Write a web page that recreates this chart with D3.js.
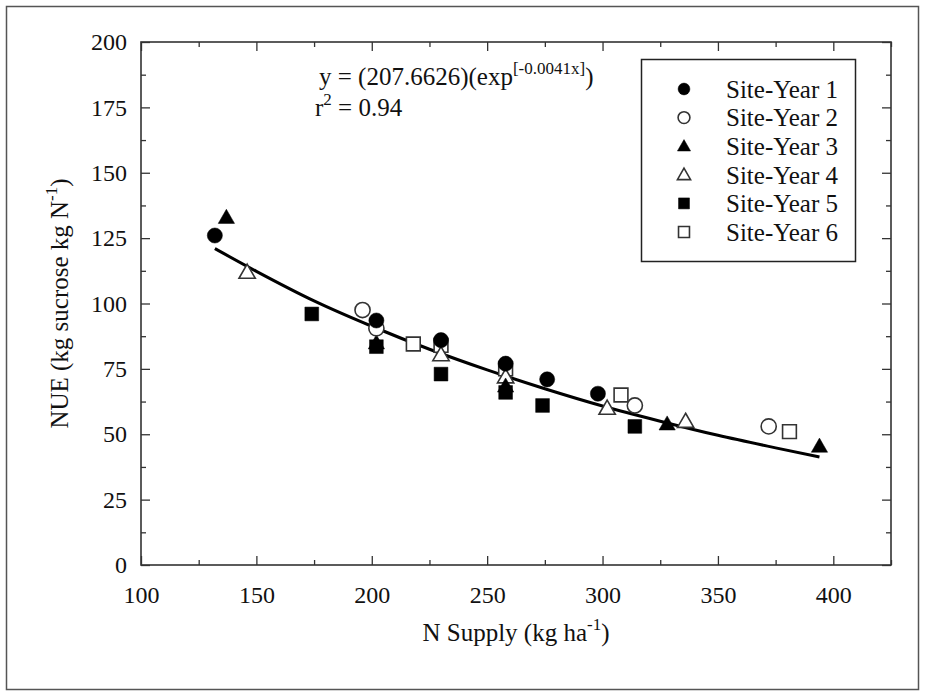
<!DOCTYPE html>
<html>
<head>
<meta charset="utf-8">
<script src="https://cdn.jsdelivr.net/npm/d3@7"></script>
<style>
  body { margin: 0; background: #fff; }
  text { font-family: "Liberation Serif", "Times New Roman", serif; fill: #111; }
</style>
</head>
<body>
<svg id="chart" width="925" height="696"></svg>
<script>
// data: [N supply, NUE]
const siteYear1 = [[132, 126], [202, 93.5], [230, 86], [258, 77], [276, 71], [298, 65.5]];
const siteYear2 = [[196, 97.5], [202, 90.5], [314, 61], [372, 53]];
const siteYear3 = [[137, 133], [202, 85], [258, 68.5], [328, 54], [394, 45.5]];
const siteYear4 = [[146, 112], [230, 80.5], [258, 72], [302, 60], [336, 55]];
const siteYear5 = [[174, 96], [202, 83.5], [230, 73], [258, 66], [274, 61], [314, 53]];
const siteYear6 = [[218, 84.5], [230, 84], [258, 75], [308, 65], [381, 51]];

// fitted line as drawn
const fitLine = [[132, 121], [150, 112.3], [175, 101], [200, 91.3], [225, 82.5], [250, 74.6],
    [275, 67.4], [300, 60.8], [325, 55], [350, 49.6], [375, 44.8], [394, 41.3]];

const seriesNames = ['Site-Year 1', 'Site-Year 2', 'Site-Year 3', 'Site-Year 4', 'Site-Year 5', 'Site-Year 6'];
const xMajorTicks = [100, 150, 200, 250, 300, 350, 400];
const xMinorTicks = [125, 175, 225, 275, 325, 375, 425];
const yMajorTicks = [0, 25, 50, 75, 100, 125, 150, 175, 200];
const yMinorTicks = [12.5, 37.5, 62.5, 87.5, 112.5, 137.5, 162.5, 187.5];

const series = [
    { name: seriesNames[0], data: siteYear1, shape: d3.symbolCircle, filled: true },
    { name: seriesNames[1], data: siteYear2, shape: d3.symbolCircle, filled: false },
    { name: seriesNames[2], data: siteYear3, shape: d3.symbolTriangle, filled: true },
    { name: seriesNames[3], data: siteYear4, shape: d3.symbolTriangle, filled: false },
    { name: seriesNames[4], data: siteYear5, shape: d3.symbolSquare, filled: true },
    { name: seriesNames[5], data: siteYear6, shape: d3.symbolSquare, filled: false }
];

const svg = d3.select('#chart');

const plotLeft = 141, plotRight = 891, plotTop = 42, plotBottom = 565;

const x = d3.scaleLinear().domain([100, 425]).range([plotLeft, plotRight]);
const y = d3.scaleLinear().domain([0, 200]).range([plotBottom, plotTop]);

// outer border
svg.append('rect')
    .attr('x', 6.5).attr('y', 6.5)
    .attr('width', 912).attr('height', 683)
    .attr('fill', 'none')
    .attr('stroke', '#555')
    .attr('stroke-width', 1.5);

const frameColor = '#333';

const styleAxis = (g) => {
    g.select('.domain').remove();
    g.selectAll('line').attr('stroke', frameColor).attr('stroke-width', 1.3);
    g.selectAll('text')
        .style('font-family', '"Liberation Serif", "Times New Roman", serif')
        .style('font-size', '24px')
        .attr('fill', '#111');
};

// minor ticks on all four sides (inward)
svg.append('g').attr('transform', `translate(0,${plotBottom})`)
    .call(d3.axisBottom(x).tickValues(xMinorTicks).tickSize(-5).tickFormat(''))
    .call(styleAxis);
svg.append('g').attr('transform', `translate(0,${plotTop})`)
    .call(d3.axisTop(x).tickValues(xMinorTicks).tickSize(-5).tickFormat(''))
    .call(styleAxis);
svg.append('g').attr('transform', `translate(${plotLeft},0)`)
    .call(d3.axisLeft(y).tickValues(yMinorTicks).tickSize(-5).tickFormat(''))
    .call(styleAxis);
svg.append('g').attr('transform', `translate(${plotRight},0)`)
    .call(d3.axisRight(y).tickValues(yMinorTicks).tickSize(-5).tickFormat(''))
    .call(styleAxis);

// major ticks
svg.append('g').attr('transform', `translate(0,${plotBottom})`)
    .call(d3.axisBottom(x).tickValues(xMajorTicks).tickSize(-9).tickPadding(21).tickFormat(d3.format('d')))
    .call(styleAxis);
svg.append('g').attr('transform', `translate(0,${plotTop})`)
    .call(d3.axisTop(x).tickValues(xMajorTicks).tickSize(-9).tickFormat(''))
    .call(styleAxis);
svg.append('g').attr('transform', `translate(${plotLeft},0)`)
    .call(d3.axisLeft(y).tickValues(yMajorTicks).tickSize(-9).tickPadding(14).tickFormat(d3.format('d')))
    .call(styleAxis);
svg.append('g').attr('transform', `translate(${plotRight},0)`)
    .call(d3.axisRight(y).tickValues(yMajorTicks).tickSize(-9).tickFormat(''))
    .call(styleAxis);

// plot frame
svg.append('rect')
    .attr('x', plotLeft).attr('y', plotTop)
    .attr('width', plotRight - plotLeft).attr('height', plotBottom - plotTop)
    .attr('fill', 'none')
    .attr('stroke', frameColor)
    .attr('stroke-width', 1.6);

// fitted curve
const line = d3.line()
    .x(d => x(d[0]))
    .y(d => y(d[1]))
    .curve(d3.curveMonotoneX);

svg.append('path')
    .datum(fitLine)
    .attr('d', line)
    .attr('fill', 'none')
    .attr('stroke', '#000')
    .attr('stroke-width', 3);

// markers
const symbolSize = (shape, big) => {
    if (shape === d3.symbolCircle) return big ? 180 : 110;
    if (shape === d3.symbolSquare) return big ? 190 : 120;
    return big ? 115 : 75;
};

const drawMarker = (sel, s, big) => {
    sel.attr('d', d3.symbol().type(s.shape).size(symbolSize(s.shape, big)))
        .attr('fill', s.filled ? '#000' : '#fff')
        .attr('stroke', s.filled ? '#000' : '#333')
        .attr('stroke-width', s.filled ? 0.5 : 1.6);
};

// draw in reverse so site-year 1 sits on top
series.slice().reverse().forEach(s => {
    svg.append('g')
        .selectAll('path')
        .data(s.data)
        .join('path')
        .attr('transform', d => {
            const dy = s.shape === d3.symbolTriangle ? 1.5 : 0;
            return `translate(${x(d[0])},${y(d[1]) + dy})`;
        })
        .call(drawMarker, s, true);
});

// legend
const legend = svg.append('g');
legend.append('rect')
    .attr('x', 641.5).attr('y', 59.5)
    .attr('width', 214).attr('height', 202)
    .attr('fill', '#fff')
    .attr('stroke', '#222')
    .attr('stroke-width', 1.5);

series.forEach((s, i) => {
    const ry = 89 + i * 28.6;
    legend.append('path')
        .attr('transform', `translate(684,${ry + (s.shape === d3.symbolTriangle ? 1 : 0)})`)
        .call(drawMarker, s, false);
    legend.append('text')
        .attr('x', 726)
        .attr('y', ry)
        .attr('dy', '0.35em')
        .style('font-size', '25px')
        .text(s.name);
});

// equation
const eq = svg.append('text')
    .attr('x', 319).attr('y', 85)
    .style('font-size', '25px');
eq.append('tspan').text('y = (207.6626)(exp');
eq.append('tspan').attr('dy', -11).style('font-size', '17px').text('[-0.0041x]');
eq.append('tspan').attr('dy', 11).text(')');

const r2 = svg.append('text')
    .attr('x', 315).attr('y', 116)
    .style('font-size', '25px');
r2.append('tspan').text('r');
r2.append('tspan').attr('dy', -11).style('font-size', '17px').text('2');
r2.append('tspan').attr('dy', 11).text(' = 0.94');

// axis titles
const xTitle = svg.append('text')
    .attr('x', (plotLeft + plotRight) / 2)
    .attr('y', 641)
    .attr('text-anchor', 'middle')
    .style('font-size', '25px');
xTitle.append('tspan').text('N Supply (kg ha');
xTitle.append('tspan').attr('dy', -11).style('font-size', '17px').text('-1');
xTitle.append('tspan').attr('dy', 11).text(')');

const yTitle = svg.append('text')
    .attr('transform', `translate(68,${(plotTop + plotBottom) / 2}) rotate(-90)`)
    .attr('text-anchor', 'middle')
    .style('font-size', '25px');
yTitle.append('tspan').text('NUE (kg sucrose kg N');
yTitle.append('tspan').attr('dy', -11).style('font-size', '17px').text('-1');
yTitle.append('tspan').attr('dy', 11).text(')');
</script>
</body>
</html>
